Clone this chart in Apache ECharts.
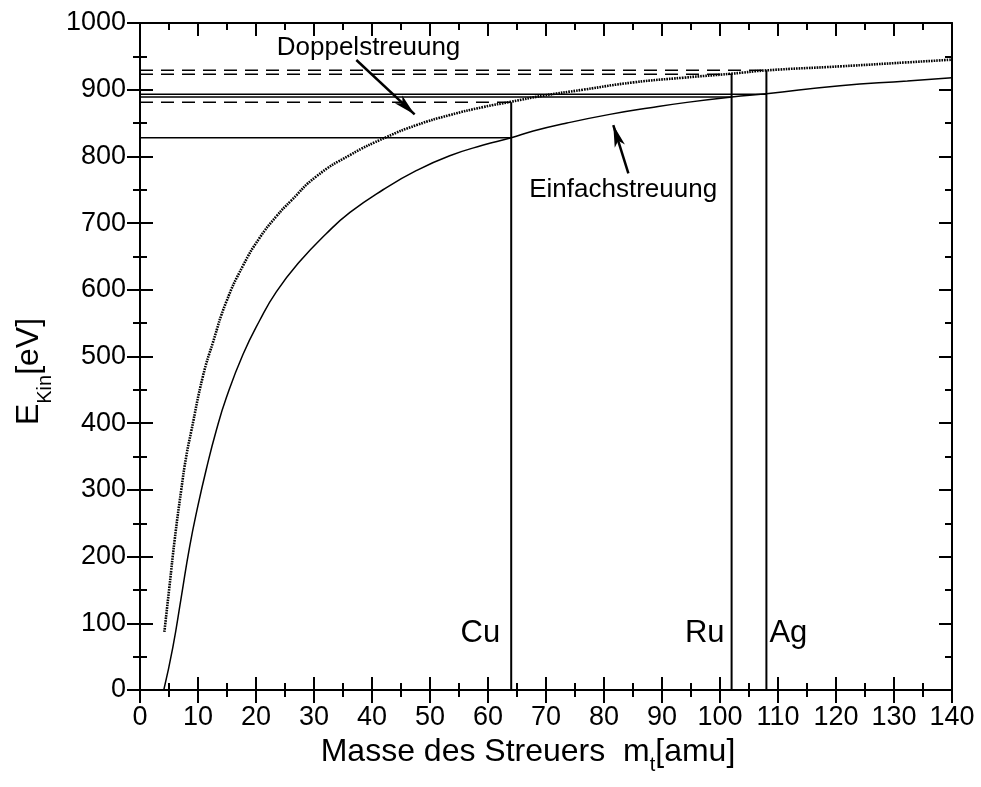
<!DOCTYPE html>
<html>
<head>
<meta charset="utf-8">
<script src="https://cdn.jsdelivr.net/npm/echarts@6/dist/echarts.min.js"></script>
<style>
  html, body { margin: 0; padding: 0; background: #fff; }
  #chart { width: 981px; height: 787px; }
</style>
</head>
<body>
<div id="chart"></div>
<script>
// Einfachstreuung: single collision energy vs. target mass
const einfachMass = [4.1, 5.66, 7.11, 8.54, 9.98, 11.43, 13.15, 14.88, 17.75, 20.63, 23.5, 27.5, 32.1, 36.2, 41.9, 47.7, 53.4, 59.2, 64, 67.8, 73.6, 81, 88, 94.3, 102, 108, 120.7, 132.3, 140];
const einfachE    = [0, 64, 139, 214, 276, 331, 389, 438, 503, 554, 597, 642, 684, 716, 750, 779, 801, 817, 828, 838, 850, 863, 873, 881, 889, 894, 906, 913, 918];

// Doppelstreuung: two successive collisions
const doppelMass = [4.2, 5.09, 5.96, 7.11, 7.97, 8.84, 10.84, 12.57, 14.88, 17.75, 20.63, 23.5, 26.1, 30.4, 36.2, 42.5, 47.7, 53.4, 59.2, 64, 69.5, 76.4, 85.1, 93.7, 102, 108, 120.7, 132.3, 140];
const doppelE    = [87, 156, 224, 300, 350, 388, 470, 521, 582, 636, 678, 710, 734, 770, 802, 829, 847, 862, 874, 882, 891, 900, 911, 918, 924, 929, 935, 941, 945];

// Marked target elements
const elements   = ['Cu', 'Ru', 'Ag'];
const elemMass   = [64, 102, 108];
const elemSingle = [828, 889, 893];
const elemDouble = [881, 923, 929];
const elemLabelE = [85, 85, 85];

// Curve annotations: text anchor and arrow (tail -> tip)
const noteTexts = ['Doppelstreuung', 'Einfachstreuung'];
const noteAnchor = [[39.4, 962.5], [83.3, 749.4]];
const noteArrows = [
  [[37.3, 944.5], [47.35, 863]],
  [[84.2, 774.5], [81.6, 847]]
];

const FONT = 'Liberation Sans, Arial, Helvetica, sans-serif';
const BLACK = '#000';

const zip = (xs, ys) => xs.map((x, i) => [x, ys[i]]);

function axisBase(extra) {
  return Object.assign({
    type: 'value',
    axisLine: { show: true, onZero: false, lineStyle: { color: BLACK, width: 2 } },
    splitLine: { show: false },
    axisTick: { show: true, inside: true, length: 13, lineStyle: { color: BLACK, width: 2 } },
    minorTick: { show: true, splitNumber: 2, length: 7, lineStyle: { color: BLACK, width: 2 } },
    axisLabel: { show: false }
  }, extra);
}

const tickLabel = {
  show: true, color: BLACK, fontFamily: FONT, fontSize: 27,
  formatter: v => String(v)
};

const xAxes = [
  axisBase({
    min: 0, max: 140, interval: 10, position: 'bottom',
    axisTick: { show: true, inside: false, length: 13, lineStyle: { color: BLACK, width: 2 } },
    axisLabel: Object.assign({ margin: 14 }, tickLabel),
    name: '{m|Masse des Streuers  m}{s|t}{m|[amu]}',
    nameLocation: 'middle',
    nameGap: 44,
    nameTextStyle: {
      color: BLACK, fontFamily: FONT, padding: [0, 36, 0, 0],
      rich: {
        m: { fontSize: 32, lineHeight: 32, fontFamily: FONT, color: BLACK, verticalAlign: 'top' },
        s: { fontSize: 20, lineHeight: 20, fontFamily: FONT, color: BLACK, verticalAlign: 'top', padding: [20, 0, 0, 0] }
      }
    }
  }),
  axisBase({ min: 0, max: 140, interval: 10, position: 'bottom' }),
  axisBase({ min: 0, max: 140, interval: 10, position: 'top' })
];

const yAxes = [
  axisBase({
    min: 0, max: 1000, interval: 100, position: 'left',
    axisTick: { show: true, inside: false, length: 13, lineStyle: { color: BLACK, width: 2 } },
    axisLabel: Object.assign({ margin: 14 }, tickLabel),
    name: '{m|E}{s|Kin}{m|[eV]}',
    nameLocation: 'middle',
    nameGap: 89,
    nameTextStyle: {
      color: BLACK, fontFamily: FONT, padding: [0, 30, 0, 0],
      rich: {
        m: { fontSize: 32, lineHeight: 32, fontFamily: FONT, color: BLACK, verticalAlign: 'top' },
        s: { fontSize: 20, lineHeight: 20, fontFamily: FONT, color: BLACK, verticalAlign: 'top', padding: [22, 0, 0, 0] }
      }
    }
  }),
  axisBase({ min: 0, max: 1000, interval: 100, position: 'left' }),
  axisBase({ min: 0, max: 1000, interval: 100, position: 'right' })
];

const series = [];

// Reference lines for each element: single (solid), double (dashed), mass marker (vertical)
elements.forEach((el, i) => {
  series.push({
    type: 'line', symbol: 'none', silent: true, z: 3,
    lineStyle: { color: BLACK, width: 1.5, type: 'solid' },
    data: [[0, elemSingle[i]], [elemMass[i], elemSingle[i]]]
  });
  series.push({
    type: 'line', symbol: 'none', silent: true, z: 3,
    lineStyle: { color: BLACK, width: 1.5, type: [13, 8] },
    data: [[0, elemDouble[i]], [elemMass[i], elemDouble[i]]]
  });
  series.push({
    type: 'line', symbol: 'none', silent: true, z: 3,
    lineStyle: { color: BLACK, width: 2, type: 'solid' },
    data: [[elemMass[i], 0], [elemMass[i], elemDouble[i]]]
  });
});

// Energy curves
series.push({
  name: 'Einfachstreuung', type: 'line', symbol: 'none', smooth: 0.5,
  silent: true, z: 4,
  lineStyle: { color: BLACK, width: 1.5 },
  data: zip(einfachMass, einfachE)
});
series.push({
  name: 'Doppelstreuung', type: 'line', symbol: 'none', smooth: 0.5,
  silent: true, z: 4,
  lineStyle: { color: BLACK, width: 2.6, type: [1.6, 1] },
  data: zip(doppelMass, doppelE)
});

// Element names beside the mass markers
const sideOf = { Cu: 'left', Ru: 'left', Ag: 'right' };
series.push({
  type: 'scatter', symbolSize: 0, silent: true, z: 5,
  itemStyle: { opacity: 1 },
  data: elements.map((el, i) => ({
    name: el,
    value: [elemMass[i], elemLabelE[i]],
    label: { position: sideOf[el], distance: el === 'Ag' ? 3 : (el === 'Cu' ? 11 : 7) }
  })),
  label: {
    show: true, formatter: '{b}', color: BLACK, fontFamily: FONT, fontSize: 31
  }
});

// Annotation texts and arrows
series.push({
  type: 'scatter', symbolSize: 0, silent: true, z: 5,
  itemStyle: { opacity: 1 },
  data: noteTexts.map((t, i) => ({ name: t, value: noteAnchor[i] })),
  label: {
    show: true, position: 'inside', formatter: '{b}', color: BLACK,
    fontFamily: FONT, fontSize: 26
  },
  markLine: {
    silent: true, symbol: ['none', 'arrow'], symbolSize: [8, 22],
    label: { show: false },
    lineStyle: { color: BLACK, width: 2.5, type: 'solid' },
    data: noteArrows.map(a => [{ coord: a[0] }, { coord: a[1] }])
  }
});

const chart = echarts.init(document.getElementById('chart'), null, { renderer: 'canvas' });
chart.setOption({
  backgroundColor: '#fff',
  animation: false,
  grid: { left: 140, right: 29, top: 23, bottom: 97, containLabel: false },
  xAxis: xAxes,
  yAxis: yAxes,
  series: series
});
</script>
</body>
</html>
